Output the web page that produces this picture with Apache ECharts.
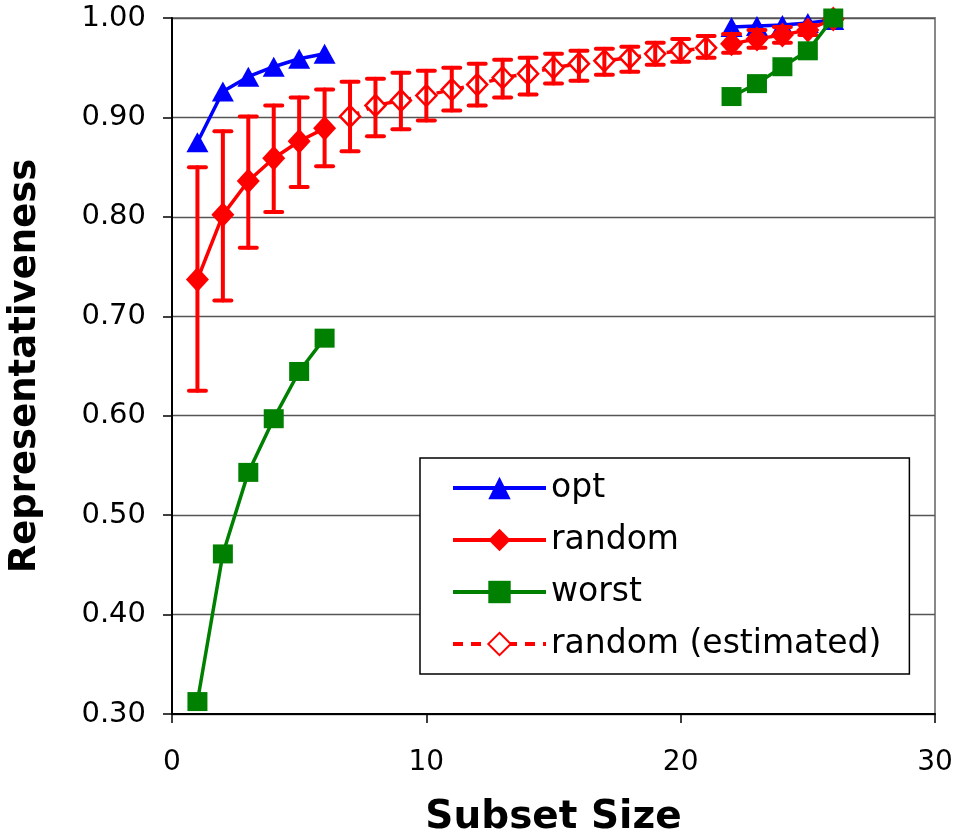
<!DOCTYPE html>
<html>
<head>
<meta charset="utf-8">
<script src="https://cdn.jsdelivr.net/npm/echarts@6/dist/echarts.min.js"></script>
<style>
html,body{margin:0;padding:0;background:#fff;}
#chart{width:957px;height:834px;}
</style>
</head>
<body>
<div id="chart"></div>
<script>
// ---- data ----
var xLeft = [1, 2, 3, 4, 5, 6];
var xMid = [7, 8, 9, 10, 11, 12, 13, 14, 15, 16, 17, 18, 19, 20, 21];
var xRight = [22, 23, 24, 25, 26];

var optLeft = [0.875, 0.926, 0.941, 0.951, 0.959, 0.964];
var optRight = [0.991, 0.992, 0.993, 0.995, 0.998];

var randomLeft = [0.737, 0.802, 0.836, 0.859, 0.876, 0.889];
var randomLeftLow = [0.625, 0.716, 0.769, 0.805, 0.830, 0.851];
var randomLeftHigh = [0.850, 0.886, 0.901, 0.912, 0.920, 0.928];

var randomRight = [0.974, 0.979, 0.983, 0.988, 0.999];
var randomRightLow = [0.965, 0.970, 0.975, 0.983, 0.999];
var randomRightHigh = [0.984, 0.988, 0.991, 0.993, 0.999];

var estimated = [0.901, 0.912, 0.917, 0.922, 0.928, 0.933, 0.940, 0.944, 0.950, 0.954, 0.957, 0.960, 0.964, 0.967, 0.970];
var estimatedLow = [0.866, 0.881, 0.888, 0.897, 0.907, 0.912, 0.920, 0.923, 0.934, 0.937, 0.943, 0.946, 0.953, 0.956, 0.960];
var estimatedHigh = [0.936, 0.939, 0.945, 0.947, 0.950, 0.954, 0.958, 0.960, 0.964, 0.967, 0.969, 0.971, 0.975, 0.979, 0.982];

var worstLeft = [0.3125, 0.461, 0.543, 0.597, 0.6445, 0.678];
var worstRight = [0.921, 0.934, 0.951, 0.967, 1.0];

var seriesNames = ['opt', 'random', 'worst', 'random (estimated)'];
var xAxisName = 'Subset Size';
var yAxisName = 'Representativeness';

// ---- helpers ----
function pairs(xs, ys) { return xs.map(function (x, i) { return [x, ys[i]]; }); }
function triples(xs, lo, hi) { return xs.map(function (x, i) { return [x, lo[i], hi[i]]; }); }

var errData = [].concat(
  triples(xLeft, randomLeftLow, randomLeftHigh),
  triples(xMid, estimatedLow, estimatedHigh),
  triples(xRight, randomRightLow, randomRightHigh)
);

var FONT = 'DejaVu Sans, Verdana, sans-serif';
var BLUE = '#0000ff', RED = '#ff0000', GREEN = '#008000';

function lineSeries(name, xs, ys, color, symbol, size, z) {
  return {
    name: name, type: 'line', data: pairs(xs, ys),
    symbol: symbol, symbolSize: size, showSymbol: true,
    lineStyle: { color: color, width: 3.5 },
    itemStyle: { color: color },
    z: z, animation: false
  };
}

var chart = echarts.init(document.getElementById('chart'), null, { renderer: 'canvas' });
chart.setOption({
  backgroundColor: '#ffffff',
  animation: false,
  grid: {
    left: 172, right: 22, top: 18, bottom: 120,
    containLabel: false, outerBoundsMode: 'none',
    show: true, borderColor: '#888888', borderWidth: 2, backgroundColor: '#ffffff'
  },
  legend: {
    data: seriesNames,
    orient: 'vertical',
    left: 420, top: 458,
    padding: [13, 28, 13, 31],
    backgroundColor: '#ffffff',
    borderColor: '#000000', borderWidth: 1.5,
    itemWidth: 93, itemHeight: 28, itemGap: 18,
    lineStyle: { width: 4 },
    textStyle: { fontFamily: FONT, fontSize: 33, color: '#000', lineHeight: 34 }
  },
  xAxis: {
    type: 'value', min: 0, max: 30, interval: 10,
    name: xAxisName, nameLocation: 'middle', nameGap: 84,
    nameTextStyle: { fontFamily: FONT, fontSize: 39, fontWeight: 'bold', color: '#000' },
    axisLine: { show: true, onZero: false, lineStyle: { color: '#000', width: 2 } },
    axisTick: { show: true, length: 9, lineStyle: { color: '#000', width: 1.5 } },
    axisLabel: { fontFamily: FONT, fontSize: 28, color: '#000', margin: 35 },
    splitLine: { show: false }
  },
  yAxis: {
    type: 'value', min: 0.3, max: 1.0, interval: 0.1,
    name: yAxisName, nameLocation: 'middle', nameGap: 128, nameRotate: 90,
    nameTextStyle: { fontFamily: FONT, fontSize: 37, fontWeight: 'bold', color: '#000' },
    axisLine: { show: true, lineStyle: { color: '#000', width: 2 } },
    axisTick: { show: true, length: 9, lineStyle: { color: '#000', width: 1.5 } },
    axisLabel: {
      fontFamily: FONT, fontSize: 29, color: '#000', margin: 26,
      formatter: function (v) { return v.toFixed(2); }
    },
    splitLine: { show: true, lineStyle: { color: '#555555', width: 1.3 } }
  },
  series: [
    lineSeries(seriesNames[0], xLeft, optLeft, BLUE, 'triangle', [22, 20], 3),
    lineSeries(seriesNames[0], xRight, optRight, BLUE, 'triangle', [22, 20], 3),
    lineSeries(seriesNames[1], xLeft, randomLeft, RED, 'diamond', [23, 25], 4),
    lineSeries(seriesNames[1], xRight, randomRight, RED, 'diamond', [23, 25], 4),
    lineSeries(seriesNames[2], xLeft, worstLeft, GREEN, 'rect', [20, 19], 6),
    lineSeries(seriesNames[2], xRight, worstRight, GREEN, 'rect', [20, 19], 6),
    {
      name: seriesNames[3], type: 'line', data: pairs(xMid, estimated),
      symbol: 'diamond', symbolSize: [20, 21], showSymbol: true,
      lineStyle: { color: RED, width: 3.5, type: [10, 8] },
      itemStyle: { color: '#ffffff', borderColor: RED, borderWidth: 2.5 },
      z: 4, animation: false
    },
    {
      type: 'custom', name: 'err', data: errData, z: 5, silent: true,
      renderItem: function (params, api) {
        var x = api.value(0);
        var lo = api.coord([x, api.value(1)]);
        var hi = api.coord([x, api.value(2)]);
        var hw = 8.5;
        var st = { stroke: RED, lineWidth: 4, lineCap: 'round' };
        return {
          type: 'group',
          children: [
            { type: 'line', shape: { x1: lo[0], y1: lo[1], x2: hi[0], y2: hi[1] }, style: st },
            { type: 'line', shape: { x1: lo[0] - hw, y1: lo[1], x2: lo[0] + hw, y2: lo[1] }, style: st },
            { type: 'line', shape: { x1: hi[0] - hw, y1: hi[1], x2: hi[0] + hw, y2: hi[1] }, style: st }
          ]
        };
      },
      encode: { x: 0, y: [1, 2] },
      animation: false
    }
  ]
});
</script>
</body>
</html>
